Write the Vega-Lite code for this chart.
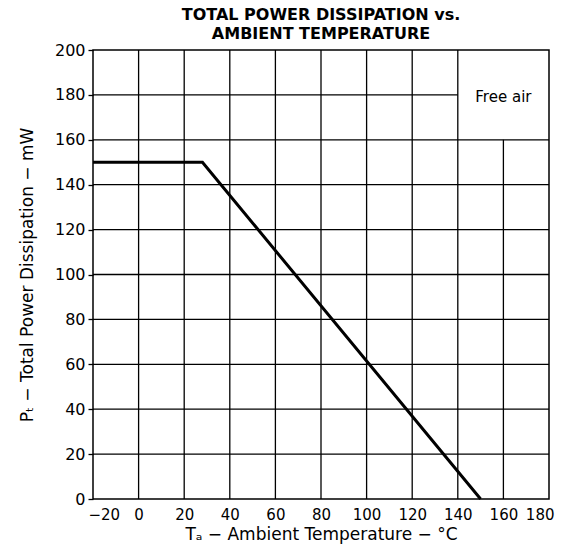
{
  "$schema": "https://vega.github.io/schema/vega-lite/v6.json",
  "width": 456,
  "height": 449,
  "autosize": "none",
  "padding": {"left": 93, "top": 50, "right": 17, "bottom": 58},
  "background": "white",
  "config": {
    "view": {"stroke": "black", "strokeWidth": 1.5},
    "font": "DejaVu Sans",
    "axis": {
      "grid": false,
      "domain": false,
      "labelColor": "black",
      "labelFontSize": 16,
      "labelFont": "DejaVu Sans",
      "labelOverlap": false,
      "titleColor": "black",
      "titleFontSize": 17,
      "titleFontWeight": "normal",
      "titleFont": "DejaVu Sans"
    }
  },
  "title": {
    "text": ["TOTAL POWER DISSIPATION vs.", "AMBIENT TEMPERATURE"],
    "fontSize": 16,
    "font": "DejaVu Sans",
    "fontWeight": "bold",
    "color": "black",
    "lineHeight": 19,
    "offset": 0,
    "anchor": "middle"
  },
  "layer": [
    {
      "data": {"values": [
        {"x": 0, "y1": 0, "y2": 200},
        {"x": 20, "y1": 0, "y2": 200},
        {"x": 40, "y1": 0, "y2": 200},
        {"x": 60, "y1": 0, "y2": 200},
        {"x": 80, "y1": 0, "y2": 200},
        {"x": 100, "y1": 0, "y2": 200},
        {"x": 120, "y1": 0, "y2": 200},
        {"x": 140, "y1": 0, "y2": 200},
        {"x": 160, "y1": 0, "y2": 160}
      ]},
      "mark": {"type": "rule", "color": "black", "strokeWidth": 1.3},
      "encoding": {
        "x": {"field": "x", "type": "quantitative", "scale": {"domain": [-20, 180], "nice": false, "zero": false}},
        "y": {"field": "y1", "type": "quantitative", "scale": {"domain": [0, 200], "nice": false}},
        "y2": {"field": "y2"}
      }
    },
    {
      "data": {"values": [
        {"y": 20, "x1": -20, "x2": 180},
        {"y": 40, "x1": -20, "x2": 180},
        {"y": 60, "x1": -20, "x2": 180},
        {"y": 80, "x1": -20, "x2": 180},
        {"y": 100, "x1": -20, "x2": 180},
        {"y": 120, "x1": -20, "x2": 180},
        {"y": 140, "x1": -20, "x2": 180},
        {"y": 160, "x1": -20, "x2": 180},
        {"y": 180, "x1": -20, "x2": 140}
      ]},
      "mark": {"type": "rule", "color": "black", "strokeWidth": 1.3},
      "encoding": {
        "y": {"field": "y", "type": "quantitative"},
        "x": {"field": "x1", "type": "quantitative"},
        "x2": {"field": "x2"}
      }
    },
    {
      "data": {"values": [
        {"t": -20, "p": 150},
        {"t": 28, "p": 150},
        {"t": 150, "p": 0}
      ]},
      "mark": {"type": "line", "color": "black", "strokeWidth": 3},
      "encoding": {
        "x": {
          "field": "t", "type": "quantitative",
          "axis": {"values": [-20, 0, 20, 40, 60, 80, 100, 120, 140, 160, 180], "ticks": false, "labelFontSize": 15, "labelFlush": true, "labelFlushOffset": 5, "labelPadding": 8, "title": "Tₐ − Ambient Temperature − °C", "titlePadding": 4, "labelExpr": "replace(datum.label, '-', '−')"}
        },
        "y": {
          "field": "p", "type": "quantitative",
          "axis": {"values": [0, 20, 40, 60, 80, 100, 120, 140, 160, 180, 200], "ticks": true, "tickColor": "black", "tickSize": 5, "tickWidth": 1.3, "labelPadding": 3, "title": "Pₜ − Total Power Dissipation − mW", "titlePadding": 18}
        }
      }
    },
    {
      "data": {"values": [{"t": 160, "p": 179, "label": "Free air"}]},
      "mark": {"type": "text", "fontSize": 15, "color": "black", "font": "DejaVu Sans"},
      "encoding": {
        "x": {"field": "t", "type": "quantitative"},
        "y": {"field": "p", "type": "quantitative"},
        "text": {"field": "label"}
      }
    }
  ]
}
